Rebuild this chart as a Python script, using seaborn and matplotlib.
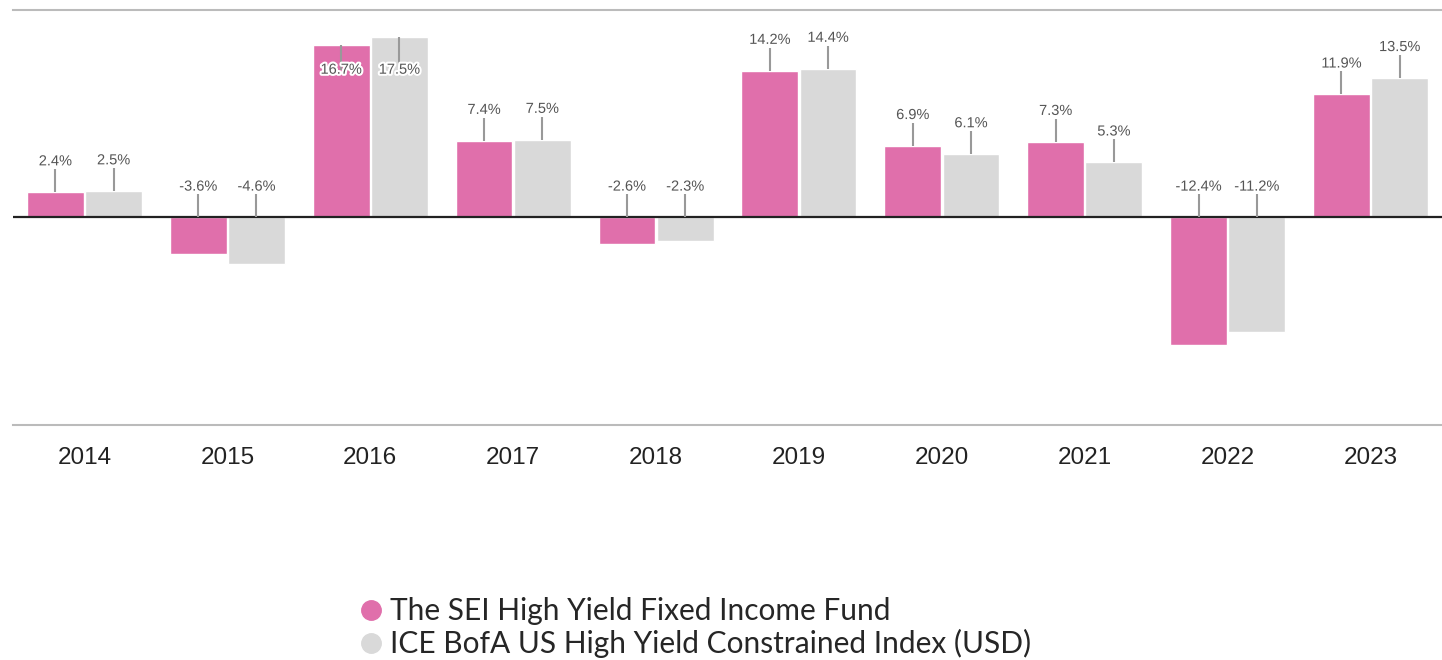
import pandas as pd
import seaborn as sns
import matplotlib.pyplot as plt
import matplotlib.patheffects as pe
from matplotlib.lines import Line2D

years = ['2014', '2015', '2016', '2017', '2018', '2019', '2020', '2021', '2022', '2023']
fund = [2.4, -3.6, 16.7, 7.4, -2.6, 14.2, 6.9, 7.3, -12.4, 11.9]
index = [2.5, -4.6, 17.5, 7.5, -2.3, 14.4, 6.1, 5.3, -11.2, 13.5]
series = ['The SEI High Yield Fixed Income Fund', 'ICE BofA US High Yield Constrained Index (USD)']
colors = ['#E06FAB', '#D9D9D9']

df = pd.DataFrame({
    'Year': years * 2,
    'Return': fund + index,
    'Series': [series[0]] * len(years) + [series[1]] * len(years)})

sns.set_theme(style="white")
plt.rcParams['font.family'] = ['Liberation Sans', 'DejaVu Sans']

fig = plt.figure(figsize=(14.42, 6.6), dpi=100)
ax = fig.add_axes([13 / 1442, 1 - 425 / 660, 1 - 13 / 1442, 415 / 660])
sns.barplot(data=df, x='Year', y='Return', hue='Series', palette=colors,
            width=0.815, gap=0.025, saturation=1, legend=False, ax=ax)

ax.set_ylim(-20.2, 20.1)
ax.set_xlim(-0.5, len(years) - 0.5)
ax.axhline(0, color='#222222', lw=1.6, zorder=3)

# value labels with leader lines
for cont, vals in zip(ax.containers, [fund, index]):
    for bar, v in zip(cont.patches, vals):
        x = bar.get_x() + bar.get_width() / 2
        if v >= 0:
            y0 = v
            ly = v + 3.0
            if ly > 19:          # no room above: put label inside the bar
                ly = 14.3
                top = ly
            else:
                top = ly - 0.75
        else:
            y0 = 0
            ly = 2.95
            top = ly - 0.75
        ax.plot([x, x], [y0, top], color='#999999', lw=1.5, zorder=4,
                solid_capstyle='butt')
        ax.text(x, ly, f'{v:.1f}%', ha='center', va='center', fontsize=10.5,
                color='#555555', zorder=5,
                path_effects=[pe.withStroke(linewidth=3, foreground='white')])

ax.set_xlabel('')
ax.set_ylabel('')
ax.set_yticks([])
ax.tick_params(axis='x', length=0, pad=16, labelsize=17.5, labelcolor='#222222')
for s in ['left', 'right']:
    ax.spines[s].set_visible(False)
for s in ['top', 'bottom']:
    ax.spines[s].set_color('#BBBBBB')
    ax.spines[s].set_linewidth(1.5)

handles = [Line2D([0], [0], marker='o', lw=0, markersize=14, markerfacecolor=c,
                  markeredgecolor=c) for c in colors]
fig.legend(handles, series, loc='upper left', bbox_to_anchor=(356 / 1442, 1 - 597 / 660),
           frameon=False, prop={'family': 'Lato', 'size': 21.5}, handletextpad=0.15,
           labelspacing=0.14, handlelength=1.0, borderaxespad=0, borderpad=0)

fig.savefig('out.png', dpi=100)
